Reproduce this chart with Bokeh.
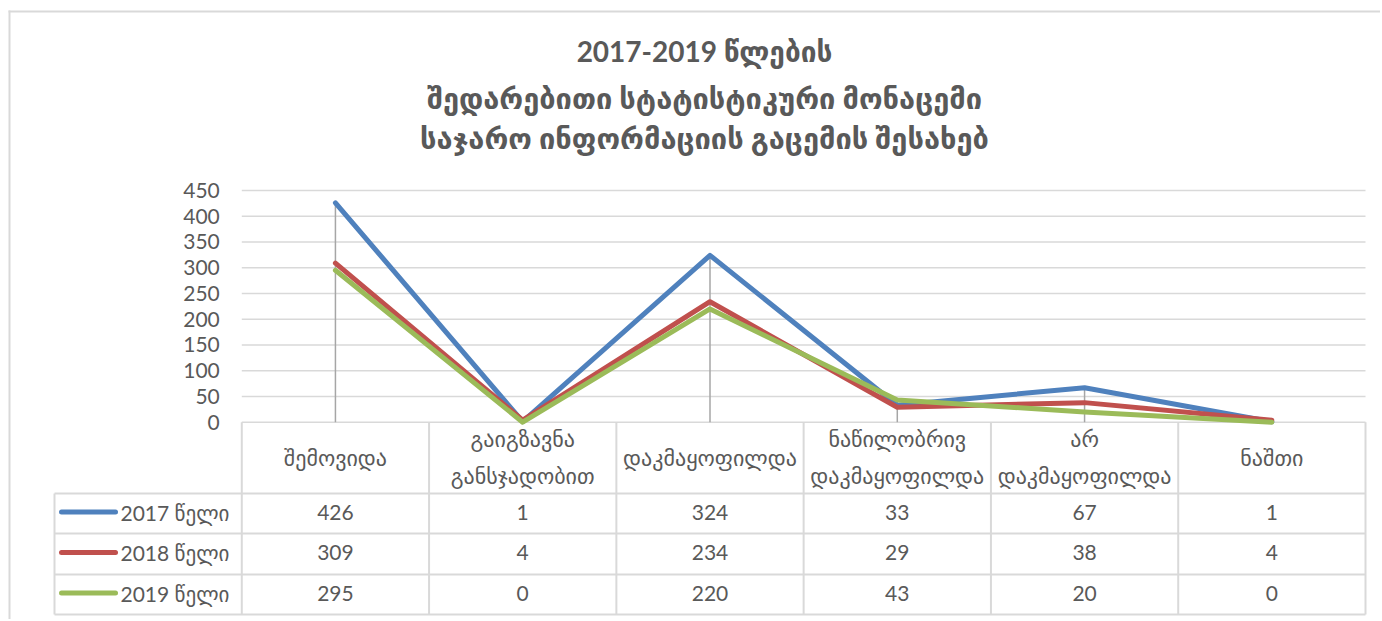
from bokeh.plotting import figure
from bokeh.models import Range1d, FixedTicker
from bokeh.embed import file_html
from bokeh.resources import INLINE
from bokeh.core.properties import value

# ---------------- data ----------------
TITLE_LINES = ["2017-2019 წლების",
               "შედარებითი სტატისტიკური მონაცემი",
               "საჯარო ინფორმაციის გაცემის შესახებ"]
CATEGORIES = ["შემოვიდა", "გაიგზავნა\nგანსჯადობით", "დაკმაყოფილდა",
              "ნაწილობრივ\nდაკმაყოფილდა", "არ\nდაკმაყოფილდა", "ნაშთი"]
SERIES = ["2017 წელი", "2018 წელი", "2019 წელი"]
V2017 = [426, 1, 324, 33, 67, 1]
V2018 = [309, 4, 234, 29, 38, 4]
V2019 = [295, 0, 220, 43, 20, 0]
Y_TICKS = [0, 50, 100, 150, 200, 250, 300, 350, 400, 450]

VALUES = [V2017, V2018, V2019]
COLORS = ["#4F81BD", "#C0504D", "#9BBB59"]
TEXT_COLOR = "#595959"
GRID_COLOR = "#d9d9d9"
FONT = "Lato, 'DejaVu Sans'"

# ---------------- geometry (page pixels) ----------------
PX0, PY0 = 0, 0            # figure origin in the picture
W, H = 1380, 619
PLOT_L, PLOT_R = 240, 1365
Y0_PX, YTOP_PX = 421.7, 190.0
TABLE_L = 54
ROW_LINES = [493, 533, 574, 614]

n = len(CATEGORIES)
k = (Y0_PX - YTOP_PX) / Y_TICKS[-1]
colw = (PLOT_R - TABLE_L) / (n + 1)

def py(pix):
    return (Y0_PX - pix) / k

def dx(pix):
    return -1 + (pix - TABLE_L) / colw

xs = [i + 0.5 for i in range(n)]

p = figure(width=W, height=H, output_backend="svg", toolbar_location=None,
           x_range=Range1d(dx(PX0), dx(PX0 + W)), y_range=Range1d(py(PY0 + H), py(PY0)),
           x_axis_location=None, min_border=0)
p.outline_line_color = None
p.grid.visible = False

# y axis at the plot-area edge
p.yaxis.fixed_location = 0
p.yaxis.ticker = FixedTicker(ticks=Y_TICKS)
p.yaxis.axis_line_color = None
p.yaxis.major_tick_line_color = None
p.yaxis.minor_tick_line_color = None
p.yaxis.major_tick_out = 0
p.yaxis.major_tick_in = 0
p.yaxis.major_label_standoff = 22
p.yaxis.major_label_text_font = "Lato"
p.yaxis.major_label_text_font_size = "21px"
p.yaxis.major_label_text_color = TEXT_COLOR

# chart border (top / left)
p.segment(x0=[dx(9)], x1=[dx(9)], y0=[py(10)], y1=[py(PY0 + H)],
          line_color=GRID_COLOR, line_width=2)
p.segment(x0=[dx(8)], x1=[dx(PX0 + W)], y0=[py(11)], y1=[py(11)],
          line_color=GRID_COLOR, line_width=2)

# horizontal gridlines over the plot area
p.segment(x0=[0] * len(Y_TICKS), x1=[n] * len(Y_TICKS), y0=Y_TICKS, y1=Y_TICKS,
          line_color=GRID_COLOR, line_width=1.6)

# data-table borders
p.segment(x0=list(range(n + 1)), x1=list(range(n + 1)), y0=[0] * (n + 1),
          y1=[py(ROW_LINES[-1])] * (n + 1), line_color=GRID_COLOR, line_width=2)
p.segment(x0=[-1], x1=[-1], y0=[py(ROW_LINES[0])], y1=[py(ROW_LINES[-1])],
          line_color=GRID_COLOR, line_width=2)
p.segment(x0=[-1] * len(ROW_LINES), x1=[n] * len(ROW_LINES),
          y0=[py(r) for r in ROW_LINES], y1=[py(r) for r in ROW_LINES],
          line_color=GRID_COLOR, line_width=2)

# drop lines
maxv = [max(v) for v in zip(*VALUES)]
p.segment(x0=xs, x1=xs, y0=[0] * n, y1=maxv, line_color="#a6a6a6", line_width=1.5)

# series
for vals, col in zip(VALUES, COLORS):
    p.line(xs, vals, line_color=col, line_width=5, line_join="round", line_cap="round")

# title
cx = dx(704)
p.text(x=[cx], y=[py(50)], text=TITLE_LINES[:1],
       text_font=value(FONT), text_font_style="bold", text_font_size="28px",
       text_color=TEXT_COLOR, text_align="center", text_baseline="middle")
p.text(x=[cx] * 2, y=[py(97), py(137)], text=TITLE_LINES[1:],
       text_font=value(FONT), text_font_style="bold", text_font_size="29px",
       text_color=TEXT_COLOR, text_align="center", text_baseline="middle")

# header labels
p.text(x=xs, y=[py((420 + ROW_LINES[0]) / 2)] * n, text=CATEGORIES,
       text_font=value(FONT), text_font_size="22px", text_color=TEXT_COLOR,
       text_align="center", text_baseline="middle", text_line_height=1.4)

for r, (vals, col, name) in enumerate(zip(VALUES, COLORS, SERIES)):
    yc = py((ROW_LINES[r] + ROW_LINES[r + 1]) / 2 - 1.5)
    p.text(x=xs, y=[yc] * n, text=[str(v) for v in vals],
           text_font=value("Lato"), text_font_size="21px", text_color=TEXT_COLOR,
           text_align="center", text_baseline="middle")
    p.segment(x0=[dx(61)], x1=[dx(115)], y0=[yc], y1=[yc], line_color=col,
              line_width=5, line_cap="round")
    p.text(x=[dx(120)], y=[yc], text=[name],
           text_font=value(FONT), text_font_size="21px", text_color=TEXT_COLOR,
           text_align="left", text_baseline="middle")

open("out.html", "w").write(file_html(p, INLINE))
